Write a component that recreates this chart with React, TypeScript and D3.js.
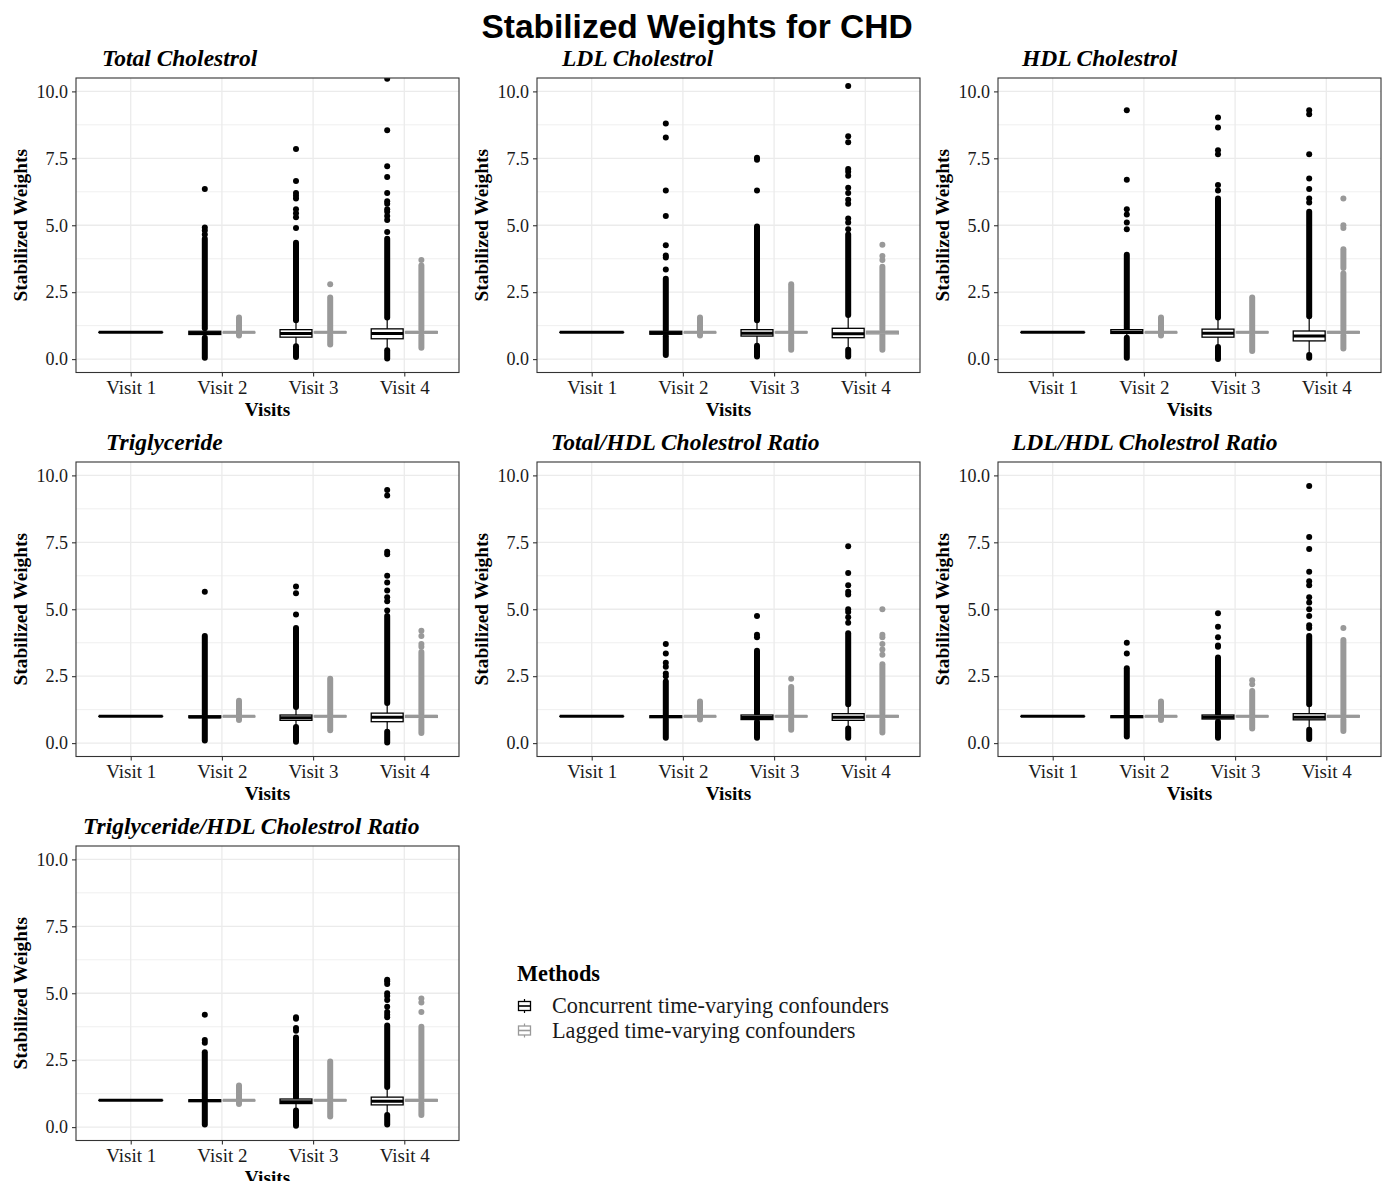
import React, { useEffect, useRef } from "react";
import * as d3 from "d3";

const visits = ["Visit 1", "Visit 2", "Visit 3", "Visit 4"];
const methods = ["Concurrent time-varying confounders", "Lagged time-varying confounders"];
const methodColors = ["#000000", "#999999"];
const yTicks = [0, 2.5, 5, 7.5, 10];
const yMinor = [1.25, 3.75, 6.25, 8.75];
const panelTitles = [
    "Total Cholestrol",
    "LDL Cholestrol",
    "HDL Cholestrol",
    "Triglyceride",
    "Total/HDL Cholestrol Ratio",
    "LDL/HDL Cholestrol Ratio",
    "Triglyceride/HDL Cholestrol Ratio",
];

// boxes: [visit, method, lower whisker, q1, median, q3, upper whisker]
// runs: dense outlier columns [visit, method, from, to]
// points: single outliers [visit, method, values]
const tcBoxes = [
    [0, 0, 1, 1, 1, 1, 1],
    [1, 0, 0.85, 0.92, 0.97, 1.04, 1.12],
    [1, 1, 0.95, 0.98, 1.0, 1.01, 1.04],
    [2, 0, 0.52, 0.82, 0.96, 1.1, 1.38],
    [2, 1, 0.92, 0.98, 1.0, 1.02, 1.06],
    [3, 0, 0.36, 0.76, 0.96, 1.13, 1.48],
    [3, 1, 0.9, 0.97, 1.0, 1.03, 1.1],
];
const tcRuns = [
    [1, 0, 1.15, 4.5], [1, 0, 0.05, 0.8], [1, 1, 1.05, 1.55], [1, 1, 0.88, 0.94],
    [2, 0, 1.45, 4.35], [2, 0, 0.08, 0.48], [2, 1, 1.08, 2.3], [2, 1, 0.55, 0.9],
    [3, 0, 1.55, 4.5], [3, 0, 0.02, 0.33], [3, 1, 1.12, 3.5], [3, 1, 0.42, 0.88],
];
const tcPoints = [
    [1, 0, [4.65, 4.8, 4.92, 6.35]],
    [2, 0, [4.9, 5.3, 5.45, 5.6, 6.0, 6.1, 6.2, 6.65, 7.85]],
    [2, 1, [2.8]],
    [3, 0, [4.75, 5.2, 5.35, 5.5, 5.6, 5.8, 5.9, 6.2, 6.8, 7.2, 8.55, 10.47]],
    [3, 1, [3.7]],
];

const ldlBoxes = [
    [0, 0, 1, 1, 1, 1, 1],
    [1, 0, 0.9, 0.93, 0.98, 1.04, 1.08],
    [1, 1, 0.95, 0.98, 1.0, 1.01, 1.04],
    [2, 0, 0.52, 0.86, 0.97, 1.1, 1.4],
    [2, 1, 0.92, 0.98, 1.0, 1.02, 1.06],
    [3, 0, 0.4, 0.8, 0.95, 1.15, 1.6],
    [3, 1, 0.9, 0.94, 1.0, 1.04, 1.1],
];
const ldlRuns = [
    [1, 0, 1.1, 3.0], [1, 0, 0.15, 0.85], [1, 1, 1.05, 1.55], [1, 1, 0.88, 0.94],
    [2, 0, 1.45, 4.95], [2, 0, 0.1, 0.5], [2, 1, 1.06, 2.8], [2, 1, 0.35, 0.9],
    [3, 0, 1.65, 4.65], [3, 0, 0.1, 0.35], [3, 1, 1.12, 3.45], [3, 1, 0.35, 0.88],
];
const ldlPoints = [
    [1, 0, [3.35, 3.8, 3.87, 4.25, 5.35, 6.3, 8.28, 8.8]],
    [2, 0, [6.3, 7.45, 7.52]],
    [3, 0, [4.85, 5.1, 5.25, 5.8, 5.95, 6.2, 6.4, 6.85, 7.0, 7.1, 8.1, 8.32, 10.2]],
    [3, 1, [3.7, 3.85, 4.27]],
];

const hdlBoxes = [
    [0, 0, 1, 1, 1, 1, 1],
    [1, 0, 0.9, 0.96, 1.0, 1.1, 1.15],
    [1, 1, 0.95, 0.98, 1.0, 1.01, 1.04],
    [2, 0, 0.5, 0.82, 0.97, 1.12, 1.5],
    [2, 1, 0.92, 0.98, 1.0, 1.02, 1.06],
    [3, 0, 0.22, 0.68, 0.86, 1.05, 1.55],
    [3, 1, 0.9, 0.97, 1.0, 1.03, 1.1],
];
const hdlRuns = [
    [1, 0, 1.15, 3.9], [1, 0, 0.05, 0.8], [1, 1, 1.05, 1.55], [1, 1, 0.88, 0.94],
    [2, 0, 1.55, 6.0], [2, 0, 0.0, 0.45], [2, 1, 1.06, 2.3], [2, 1, 0.3, 0.9],
    [3, 0, 1.6, 5.5], [3, 0, 0.05, 0.15], [3, 1, 1.12, 3.2], [3, 1, 3.4, 4.1], [3, 1, 0.4, 0.88],
];
const hdlPoints = [
    [1, 0, [4.85, 5.1, 5.4, 5.6, 6.7, 9.3]],
    [2, 0, [6.3, 6.5, 7.65, 7.8, 8.65, 9.02]],
    [3, 0, [5.85, 6.0, 6.35, 6.75, 7.65, 9.15, 9.3]],
    [3, 1, [4.9, 5.0, 6.0]],
];

const trigBoxes = [
    [0, 0, 1, 1, 1, 1, 1],
    [1, 0, 0.9, 0.95, 0.98, 1.02, 1.05],
    [1, 1, 0.95, 0.98, 1.0, 1.01, 1.04],
    [2, 0, 0.6, 0.85, 0.95, 1.05, 1.3],
    [2, 1, 0.92, 0.98, 1.0, 1.02, 1.06],
    [3, 0, 0.45, 0.8, 0.97, 1.12, 1.45],
    [3, 1, 0.9, 0.96, 1.0, 1.03, 1.1],
];
const trigRuns = [
    [1, 0, 1.05, 4.0], [1, 0, 0.1, 0.88], [1, 1, 1.05, 1.58], [1, 1, 0.86, 0.94],
    [2, 0, 1.35, 4.3], [2, 0, 0.05, 0.6], [2, 1, 1.06, 2.4], [2, 1, 0.48, 0.9],
    [3, 0, 1.5, 4.75], [3, 0, 0.02, 0.42], [3, 1, 1.1, 3.4], [3, 1, 0.38, 0.88],
];
const trigPoints = [
    [1, 0, [5.65]],
    [2, 0, [4.8, 5.6, 5.85]],
    [3, 0, [4.95, 5.3, 5.45, 5.7, 6.0, 6.25, 7.05, 7.15, 9.25, 9.45]],
    [3, 1, [3.6, 3.7, 4.0, 4.2]],
];

const tothdlBoxes = [
    [0, 0, 1, 1, 1, 1, 1],
    [1, 0, 0.9, 0.95, 0.99, 1.02, 1.05],
    [1, 1, 0.95, 0.98, 1.0, 1.01, 1.04],
    [2, 0, 0.8, 0.88, 0.96, 1.05, 1.1],
    [2, 1, 0.92, 0.98, 1.0, 1.02, 1.06],
    [3, 0, 0.55, 0.85, 0.97, 1.1, 1.4],
    [3, 1, 0.9, 0.97, 1.0, 1.03, 1.1],
];
const tothdlRuns = [
    [1, 0, 1.05, 2.3], [1, 0, 0.2, 0.9], [1, 1, 1.05, 1.55], [1, 1, 0.88, 0.94],
    [2, 0, 1.1, 3.45], [2, 0, 0.2, 0.8], [2, 1, 1.06, 2.1], [2, 1, 0.5, 0.9],
    [3, 0, 1.45, 4.1], [3, 0, 0.2, 0.55], [3, 1, 1.1, 2.95], [3, 1, 0.4, 0.88],
];
const tothdlPoints = [
    [1, 0, [2.5, 2.6, 2.85, 3.0, 3.35, 3.7]],
    [2, 0, [3.95, 4.05, 4.75]],
    [2, 1, [2.4]],
    [3, 0, [4.5, 4.7, 4.9, 5.0, 5.55, 5.65, 5.9, 6.35, 7.35]],
    [3, 1, [3.3, 3.5, 3.7, 3.95, 4.05, 5.0]],
];

const ldlhdlBoxes = [
    [0, 0, 1, 1, 1, 1, 1],
    [1, 0, 0.9, 0.95, 0.99, 1.02, 1.05],
    [1, 1, 0.95, 0.98, 1.0, 1.01, 1.04],
    [2, 0, 0.8, 0.9, 0.97, 1.05, 1.1],
    [2, 1, 0.92, 0.98, 1.0, 1.02, 1.06],
    [3, 0, 0.6, 0.87, 0.97, 1.1, 1.4],
    [3, 1, 0.9, 0.97, 1.0, 1.03, 1.1],
];
const ldlhdlRuns = [
    [1, 0, 1.05, 2.8], [1, 0, 0.25, 0.9], [1, 1, 1.05, 1.55], [1, 1, 0.86, 0.94],
    [2, 0, 1.1, 3.2], [2, 0, 0.2, 0.8], [2, 1, 1.06, 1.95], [2, 1, 0.55, 0.9],
    [3, 0, 1.45, 4.0], [3, 0, 0.15, 0.5], [3, 1, 1.1, 3.85], [3, 1, 0.45, 0.88],
];
const ldlhdlPoints = [
    [1, 0, [3.35, 3.75]],
    [2, 0, [3.6, 3.65, 3.95, 4.35, 4.85]],
    [2, 1, [2.2, 2.35]],
    [3, 0, [4.3, 4.4, 4.75, 5.0, 5.25, 5.45, 5.9, 6.05, 6.4, 7.25, 7.7, 9.6]],
    [3, 1, [4.3]],
];

const trighdlBoxes = [
    [0, 0, 1, 1, 1, 1, 1],
    [1, 0, 0.9, 0.95, 0.99, 1.02, 1.05],
    [1, 1, 0.95, 0.98, 1.0, 1.01, 1.04],
    [2, 0, 0.65, 0.88, 0.95, 1.05, 1.1],
    [2, 1, 0.92, 0.98, 1.0, 1.02, 1.06],
    [3, 0, 0.5, 0.83, 0.97, 1.12, 1.45],
    [3, 1, 0.9, 0.97, 1.0, 1.03, 1.1],
];
const trighdlRuns = [
    [1, 0, 1.05, 2.8], [1, 0, 0.1, 0.9], [1, 1, 1.05, 1.55], [1, 1, 0.86, 0.94],
    [2, 0, 1.1, 3.35], [2, 0, 0.05, 0.62], [2, 1, 1.06, 2.45], [2, 1, 0.4, 0.9],
    [3, 0, 1.5, 3.8], [3, 0, 0.1, 0.45], [3, 1, 1.1, 3.75], [3, 1, 0.45, 0.88],
];
const trighdlPoints = [
    [1, 0, [3.15, 3.25, 4.2]],
    [2, 0, [3.6, 3.7, 4.05, 4.1]],
    [3, 0, [4.1, 4.2, 4.3, 4.5, 4.75, 4.9, 5.0, 5.35, 5.45, 5.5]],
    [3, 1, [4.3, 4.65, 4.8]],
];

const panelBoxes = [tcBoxes, ldlBoxes, hdlBoxes, trigBoxes, tothdlBoxes, ldlhdlBoxes, trighdlBoxes];
const panelRuns = [tcRuns, ldlRuns, hdlRuns, trigRuns, tothdlRuns, ldlhdlRuns, trighdlRuns];
const panelPoints = [tcPoints, ldlPoints, hdlPoints, trigPoints, tothdlPoints, ldlhdlPoints, trighdlPoints];

// layout
const W = 1392;
const H = 1181;
const colLeft = [76, 537, 998];
const rowTop = [78, 462, 846];
const panelW = 383;
const panelH = 294.5;
const titleDx = [26, 25, 24, 30, 14, 14, 7];
const serif = "'Liberation Serif', 'Times New Roman', serif";
const ink = "#1a1a1a";

function App() {
    const ref = useRef<SVGSVGElement>(null);

    useEffect(() => {
        document.body.style.margin = "0";
        const svg = d3.select(ref.current);
        svg.selectAll("*").remove();
        svg.append("rect").attr("width", W).attr("height", H).attr("fill", "#fff");

        svg.append("text")
            .attr("x", 697)
            .attr("y", 38)
            .attr("text-anchor", "middle")
            .attr("font-family", "'Liberation Sans', Arial, sans-serif")
            .attr("font-weight", "bold")
            .attr("font-size", 33.5)
            .attr("fill", "#000")
            .text("Stabilized Weights for CHD");

        panelTitles.forEach((title, i) => {
            const left = colLeft[i % 3];
            const top = rowTop[Math.floor(i / 3)];
            const g = svg.append("g").attr("transform", `translate(${left},${top})`);

            const x = d3.scalePoint<string>().domain(visits).range([0, panelW]).padding(0.6);
            const y = d3.scaleLinear().domain([-0.5, 10.5]).range([panelH, 0]);
            const step = x.step();

            // title
            g.append("text")
                .attr("x", titleDx[i])
                .attr("y", -12)
                .attr("font-family", serif)
                .attr("font-weight", "bold")
                .attr("font-style", "italic")
                .attr("font-size", 23.5)
                .attr("fill", "#000")
                .text(title);

            g.append("rect").attr("width", panelW).attr("height", panelH).attr("fill", "#fff");

            // grid
            g.selectAll(".minor")
                .data(yMinor)
                .join("line")
                .attr("x1", 0)
                .attr("x2", panelW)
                .attr("y1", d => y(d))
                .attr("y2", d => y(d))
                .attr("stroke", "#ebebeb")
                .attr("stroke-width", 0.8);
            g.selectAll(".major")
                .data(yTicks)
                .join("line")
                .attr("x1", 0)
                .attr("x2", panelW)
                .attr("y1", d => y(d))
                .attr("y2", d => y(d))
                .attr("stroke", "#ebebeb")
                .attr("stroke-width", 1.3);
            g.selectAll(".vmajor")
                .data(visits)
                .join("line")
                .attr("x1", d => x(d))
                .attr("x2", d => x(d))
                .attr("y1", 0)
                .attr("y2", panelH)
                .attr("stroke", "#ebebeb")
                .attr("stroke-width", 1.3);

            const clipId = `clip-${i}`;
            g.append("clipPath").attr("id", clipId).append("rect").attr("width", panelW).attr("height", panelH);
            const plot = g.append("g").attr("clip-path", `url(#${clipId})`);

            const boxes = panelBoxes[i];
            const runs = panelRuns[i];
            const points = panelPoints[i];

            const nAt = (v: number) => boxes.filter(b => b[0] === v).length;
            const center = (v: number, m: number) => {
                const cx = x(visits[v]) as number;
                return nAt(v) === 1 ? cx : cx + (m === 0 ? -1 : 1) * 0.1875 * step;
            };
            const boxW = (v: number) => (nAt(v) === 1 ? 0.7 : 0.35) * step;

            methods.forEach((_, m) => {
                const col = methodColors[m];
                // outliers
                plot.append("g")
                    .selectAll("line")
                    .data(runs.filter(r => r[1] === m))
                    .join("line")
                    .attr("x1", d => center(d[0], m))
                    .attr("x2", d => center(d[0], m))
                    .attr("y1", d => y(d[2]))
                    .attr("y2", d => y(d[3]))
                    .attr("stroke", col)
                    .attr("stroke-width", 6)
                    .attr("stroke-linecap", "round");
                const pts = points
                    .filter(p => p[1] === m)
                    .flatMap(p => (p[2] as number[]).map(v => ({ visit: p[0] as number, v })));
                plot.append("g")
                    .selectAll("circle")
                    .data(pts)
                    .join("circle")
                    .attr("cx", d => center(d.visit, m))
                    .attr("cy", d => y(d.v))
                    .attr("r", 3)
                    .attr("fill", col);

                const bs = boxes.filter(b => b[1] === m);
                const bg = plot.append("g").selectAll("g").data(bs).join("g");
                bg.append("line")
                    .attr("x1", d => center(d[0], m))
                    .attr("x2", d => center(d[0], m))
                    .attr("y1", d => y(d[2]))
                    .attr("y2", d => y(d[6]))
                    .attr("stroke", col)
                    .attr("stroke-width", 1.2);
                bg.append("rect")
                    .attr("x", d => center(d[0], m) - boxW(d[0]) / 2)
                    .attr("width", d => boxW(d[0]))
                    .attr("y", d => y(d[5]))
                    .attr("height", d => Math.max(0.01, y(d[3]) - y(d[5])))
                    .attr("fill", "#fff")
                    .attr("stroke", col)
                    .attr("stroke-width", 1.3);
                bg.append("line")
                    .attr("x1", d => center(d[0], m) - boxW(d[0]) / 2)
                    .attr("x2", d => center(d[0], m) + boxW(d[0]) / 2)
                    .attr("y1", d => y(d[4]))
                    .attr("y2", d => y(d[4]))
                    .attr("stroke", col)
                    .attr("stroke-width", 3);
            });

            g.append("rect")
                .attr("width", panelW)
                .attr("height", panelH)
                .attr("fill", "none")
                .attr("stroke", "#333")
                .attr("stroke-width", 1.1);

            // axes
            const yAxis = d3.axisLeft(y).tickValues(yTicks).tickFormat(d3.format(".1f")).tickSize(4).tickPadding(4);
            const ya = g.append("g").call(yAxis);
            const xAxis = d3.axisBottom(x).tickSize(4).tickPadding(4);
            const xa = g.append("g").attr("transform", `translate(0,${panelH})`).call(xAxis);
            [ya, xa].forEach(a => {
                a.select(".domain").remove();
                a.selectAll("line").attr("stroke", "#333").attr("stroke-width", 1.1);
                a.selectAll("text").attr("font-family", serif).attr("fill", ink);
            });
            ya.selectAll("text").attr("font-size", 18);
            xa.selectAll("text").attr("font-size", 19);

            g.append("text")
                .attr("transform", `translate(-49,${panelH / 2}) rotate(-90)`)
                .attr("text-anchor", "middle")
                .attr("font-family", serif)
                .attr("font-weight", "bold")
                .attr("font-size", 19.3)
                .attr("fill", "#000")
                .text("Stabilized Weights");
            g.append("text")
                .attr("x", panelW / 2)
                .attr("y", panelH + 43)
                .attr("text-anchor", "middle")
                .attr("font-family", serif)
                .attr("font-weight", "bold")
                .attr("font-size", 19.3)
                .attr("fill", "#000")
                .text("Visits");
        });

        // legend
        const lg = svg.append("g").attr("transform", "translate(517,981)");
        lg.append("text")
            .attr("font-family", serif)
            .attr("font-weight", "bold")
            .attr("font-size", 22.3)
            .attr("fill", "#000")
            .text("Methods");
        const items = lg.selectAll(".item")
            .data(methods)
            .join("g")
            .attr("transform", (d, k) => `translate(0,${25 + k * 24.5})`);
        items.append("line")
            .attr("x1", 7.5).attr("x2", 7.5).attr("y1", -7).attr("y2", 7)
            .attr("stroke", (d, k) => methodColors[k]).attr("stroke-width", 1.2);
        items.append("rect")
            .attr("x", 1.5).attr("y", -4.5).attr("width", 12).attr("height", 9)
            .attr("fill", "#fff").attr("stroke", (d, k) => methodColors[k]).attr("stroke-width", 1.3);
        items.append("line")
            .attr("x1", 1.5).attr("x2", 13.5).attr("y1", 0).attr("y2", 0)
            .attr("stroke", (d, k) => methodColors[k]).attr("stroke-width", 1.6);
        items.append("text")
            .attr("x", 35)
            .attr("y", 7)
            .attr("font-family", serif)
            .attr("font-size", 22.3)
            .attr("fill", ink)
            .text(d => d);
    }, []);

    return <svg ref={ref} width={W} height={H} style={{ display: "block" }} />;
}

export default App;
